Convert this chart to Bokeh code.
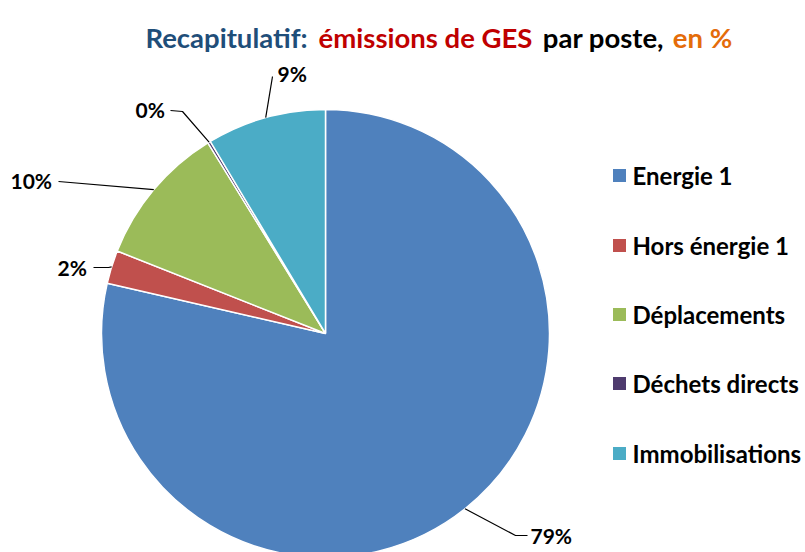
import math
from bokeh.plotting import figure
from bokeh.models import Range1d, ColumnDataSource
from bokeh.core.properties import value
from bokeh.embed import file_html
from bokeh.resources import INLINE

# ---- data ----
categories = ["Energie 1", "Hors énergie 1", "Déplacements", "Déchets directs", "Immobilisations"]
shares = [78.6, 2.4, 10.2, 0.2, 8.6]
colors = ["#4F81BD", "#C0504D", "#9BBB59", "#4E3B6E", "#4BACC6"]
title_parts = ["Recapitulatif:", "émissions de GES", "par poste,", "en %"]
title_colors = ["#1F4E79", "#C00000", "#000000", "#E46C0A"]

# ---- layout (screen pixels) ----
W, H = 805, 552
FONT = "Lato"
cx, cy, R = 325, 333, 224

p = figure(width=W, height=H, output_backend="svg", toolbar_location=None,
           x_range=Range1d(0, W), y_range=Range1d(-H, 0),
           min_border=0, x_axis_location=None, y_axis_location=None)
p.grid.visible = False
p.outline_line_color = None

total = sum(shares)
starts, ends, mids = [], [], []
cum = 0.0
for v in shares:
    a0 = 90 - cum / total * 360
    cum += v
    a1 = 90 - cum / total * 360
    starts.append(math.radians(a1))
    ends.append(math.radians(a0))
    mids.append(math.radians((a0 + a1) / 2))

src = ColumnDataSource(dict(start=starts, end=ends, color=colors, cat=categories))
p.wedge(x=cx, y=-cy, radius=R, start_angle="start", end_angle="end",
        fill_color="color", line_color="white", line_width=1.5, source=src)

# data labels with leader lines (label anchor / elbow positions are layout)
label_pos = [(530, 535), (57, 267), (10, 180), (135, 109), (277, 73)]
elbows = [[(515, 535), (527, 535)], [(108, 267), (93, 267)], [(58, 181)],
          [(182, 111), (170, 110)], [(272, 76)]]
for i, v in enumerate(shares):
    ax = cx + R * math.cos(mids[i])
    ay = cy - R * math.sin(mids[i])
    pts = [(ax, ay)] + elbows[i]
    p.line([q[0] for q in pts], [-q[1] for q in pts], line_color="#000000", line_width=1.2)
    lx, ly = label_pos[i]
    p.text(x=[lx], y=[-ly], text=[f"{int(v + 0.5)}%"], text_font=value(FONT),
           text_font_style="bold", text_font_size="21px", text_color="#000000",
           text_baseline="alphabetic", text_align="left")

# legend
leg_y = [175, 245, 314, 383, 453]
for i, c in enumerate(categories):
    p.rect(x=[619], y=[-leg_y[i]], width=13, height=13, width_units="screen",
           height_units="screen", fill_color=colors[i], line_color=None)
    p.text(x=[632], y=[-leg_y[i]], text=[c], text_font=value(FONT), text_font_style="bold",
           text_font_size="24px", text_color="#000000", text_baseline="middle", text_align="left")

# title
title_cx = [226, 425, 603, 702]
for t, col, x in zip(title_parts, title_colors, title_cx):
    p.text(x=[x], y=[-37], text=[t], text_font=value(FONT), text_font_style="bold",
           text_font_size="27.5px", text_color=col, text_baseline="alphabetic", text_align="center")

open("out.html", "w").write(file_html(p, INLINE))
